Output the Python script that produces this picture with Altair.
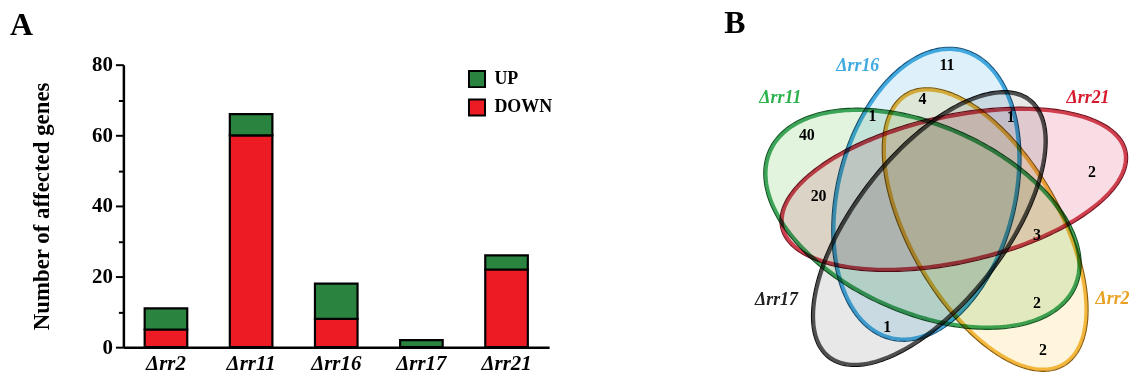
import altair as alt
import numpy as np
import pandas as pd

FONT = "Liberation Serif"

# ---------------- Panel A data ----------------
mutants = ["Δrr2", "Δrr11", "Δrr16", "Δrr17", "Δrr21"]
down_genes = [5, 60, 8, 0, 22]
up_genes = [6, 6, 10, 2, 4]
reg_labels = ["UP", "DOWN"]
reg_colors = ["#2a8440", "#ed1c24"]
y_ticks = [0, 10, 20, 30, 40, 50, 60, 70, 80]

# ---------------- Panel B data ----------------
venn_sets = ["Δrr21", "Δrr11", "Δrr2", "Δrr17", "Δrr16"]
venn_tints = ["#f8dee4", "#e2f3de", "#fff5dc", "#e8e8e8", "#def0fa"]
venn_rims = ["#d0283a", "#22a04a", "#f0b323", "#3a3a3a", "#2aa7df"]
venn_edges = ["#7a1020", "#0f5a25", "#8a6008", "#111111", "#155a80"]
venn_label_colors = ["#d7192d", "#2bb24c", "#e8a020", "#222222", "#3fa9e0"]

# ellipse geometry (diagram units, relative to diagram centre, y downward)
ell_cx = [10, -22, 42, -15, -18]
ell_cy = [-23, 7, 18, 17, -18]
ell_a = [181, 172, 161, 168, 153]
ell_b = [76, 97, 78, 78, 92]
ell_angle = [-12.5, 24, 60, -52, -76]

# region counts
count_text = ["11", "4", "1", "1", "40", "20", "2", "3", "2", "1", "2"]
count_x = [3, -22, -73, 68, -140, -128, 151, 95, 95, -58, 101]
count_y = [-150, -115, -98, -97, -78, -16, -41, 24, 93, 118, 141]

# set labels
label_x = [147, -167, 172, -171, -88]
label_y = [-116, -116, 89, 90, -149]

# ---------------- Panel A ----------------
rows = []
for m, d, u in zip(mutants, down_genes, up_genes):
    rows.append({"mutant": m, "regulation": "DOWN", "genes": d, "stack": 0})
    rows.append({"mutant": m, "regulation": "UP", "genes": u, "stack": 1})
bar_df = pd.DataFrame(rows)

bars = (
    alt.Chart(bar_df)
    .mark_bar(stroke="black", strokeWidth=2.2)
    .encode(
        x=alt.X(
            "mutant:N",
            sort=mutants,
            scale=alt.Scale(paddingInner=0.5, paddingOuter=0.25),
            axis=alt.Axis(
                title=None,
                labelAngle=0,
                ticks=False,
                labelFont=FONT,
                labelFontSize=21,
                labelFontStyle="italic",
                labelFontWeight="bold",
                labelColor="black",
                labelPadding=5,
                domainColor="black",
                domainWidth=2.5,
            ),
        ),
        y=alt.Y(
            "genes:Q",
            stack="zero",
            scale=alt.Scale(domain=[0, 80], nice=False),
            axis=alt.Axis(
                title="Number of affected genes",
                values=y_ticks,
                labelExpr="datum.value % 20 === 0 ? datum.label : ''",
                tickSize={"condition": {"test": "datum.value % 20 === 0", "value": 8}, "value": 5},
                tickColor="black",
                tickWidth=2,
                domainColor="black",
                domainWidth=2.5,
                grid=False,
                labelFont=FONT,
                labelFontSize=21,
                labelFontWeight="bold",
                labelColor="black",
                labelPadding=3,
                titleFont=FONT,
                titleFontSize=23,
                titleFontWeight="bold",
                titleColor="black",
                titlePadding=38,
            ),
        ),
        color=alt.Color(
            "regulation:N",
            scale=alt.Scale(domain=reg_labels, range=reg_colors),
            legend=alt.Legend(
                title=None,
                orient="none",
                legendX=346,
                legendY=5,
                symbolType="square",
                symbolSize=260,
                symbolStrokeColor="black",
                symbolStrokeWidth=2,
                symbolOpacity=1,
                labelFont=FONT,
                labelFontSize=18,
                labelFontWeight="bold",
                labelColor="black",
                labelOffset=8,
                rowPadding=3.5,
                padding=0,
            ),
        ),
        order=alt.Order("stack:Q"),
    )
    .properties(
        width=428,
        height=284,
        title=alt.TitleParams(
            "A", anchor="start", frame="bounds", font=FONT, fontSize=32,
            fontWeight="bold", color="black", dx=-21, offset=12,
        ),
    )
)

# ---------------- Panel B ----------------
def ellipse_features(shrink):
    feats = []
    t = np.linspace(0, 2 * np.pi, 241)
    for name, cx, cy, a, b, ang in zip(venn_sets, ell_cx, ell_cy, ell_a, ell_b, ell_angle):
        th = np.deg2rad(ang)
        aa, bb = a - shrink, b - shrink
        xs = cx + aa * np.cos(t) * np.cos(th) - bb * np.sin(t) * np.sin(th)
        ys = cy + aa * np.cos(t) * np.sin(th) + bb * np.sin(t) * np.cos(th)
        ring = [[float(x), float(y)] for x, y in zip(xs, ys)]
        ring[-1] = ring[0]
        feats.append({
            "type": "Feature",
            "properties": {"name": name},
            "geometry": {"type": "Polygon", "coordinates": [ring]},
        })
    return feats

proj = dict(type="identity", scale=0.985, translate=[229, 148], reflectY=False)

fills = (
    alt.Chart(alt.Data(values=ellipse_features(0)))
    .mark_geoshape(blend="multiply", strokeWidth=0, fillOpacity=1, clip=False)
    .encode(fill=alt.Fill("properties.name:N", scale=alt.Scale(domain=venn_sets, range=venn_tints), legend=None))
    .project(**proj)
)
rims = (
    alt.Chart(alt.Data(values=ellipse_features(2.2)))
    .mark_geoshape(blend="multiply", strokeWidth=3.5, fillOpacity=0, strokeOpacity=0.85, clip=False)
    .encode(stroke=alt.Stroke("properties.name:N", scale=alt.Scale(domain=venn_sets, range=venn_rims), legend=None))
    .project(**proj)
)
edges = (
    alt.Chart(alt.Data(values=ellipse_features(0)))
    .mark_geoshape(blend="multiply", strokeWidth=1.1, fillOpacity=0, clip=False)
    .encode(stroke=alt.Stroke("properties.name:N", scale=alt.Scale(domain=venn_sets, range=venn_edges), legend=None))
    .project(**proj)
)

count_df = pd.DataFrame({"x": count_x, "y": count_y, "n": count_text})
counts = (
    alt.Chart(count_df)
    .mark_text(font=FONT, fontSize=16, fontWeight="bold", color="black", baseline="middle", align="center", clip=False)
    .encode(longitude="x:Q", latitude="y:Q", text="n:N")
    .project(**proj)
)

label_df = pd.DataFrame({"x": label_x, "y": label_y, "name": venn_sets})
labels = (
    alt.Chart(label_df)
    .mark_text(font=FONT, fontSize=18, fontWeight="bold", fontStyle="italic", baseline="middle", align="center", clip=False)
    .encode(
        longitude="x:Q",
        latitude="y:Q",
        text="name:N",
        color=alt.Color("name:N", scale=alt.Scale(domain=venn_sets, range=venn_label_colors), legend=None),
    )
    .project(**proj)
)

venn = (
    alt.layer(fills, rims, edges, counts, labels)
    .resolve_scale(stroke="independent")
    .properties(
        width=400,
        height=300,
        title=alt.TitleParams(
            "B", anchor="start", frame="group", font=FONT, fontSize=32,
            fontWeight="bold", color="black", dx=8, offset=2,
        ),
    )
)

chart = (
    alt.hconcat(bars, venn, spacing=168, bounds="flush")
    .resolve_scale(color="independent")
    .properties(padding={"left": 1, "top": -2, "right": 0, "bottom": 0}, background="white")
    .configure_view(strokeWidth=0, stroke="transparent")
)

chart.save("out.html", embed_options={"renderer": "svg", "actions": False})
